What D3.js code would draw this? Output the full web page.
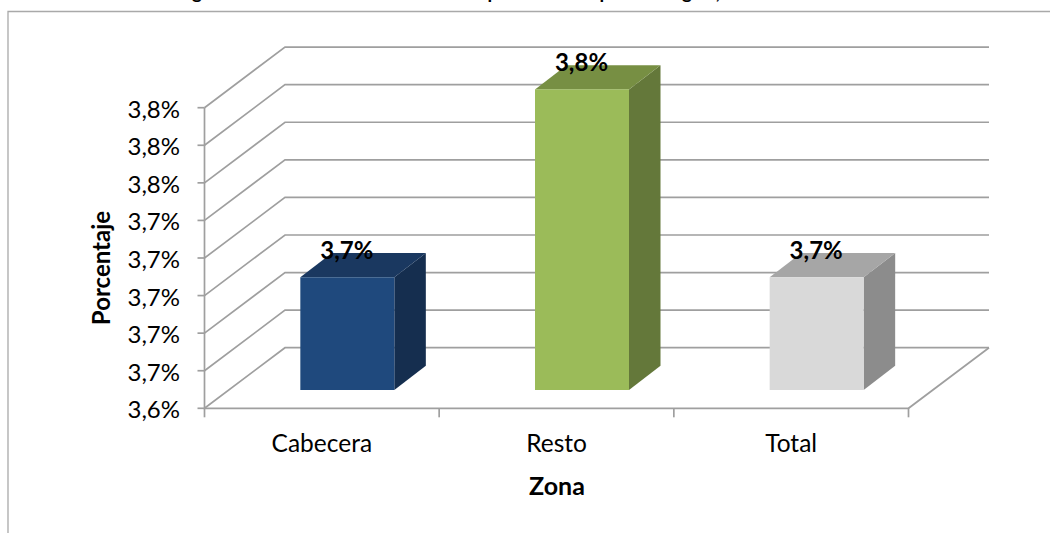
<!DOCTYPE html>
<html><head><meta charset="utf-8">
<script src="https://cdn.jsdelivr.net/npm/d3@7"></script>
<style>html,body{margin:0;padding:0;background:#fff}svg{display:block}text{font-family:Lato,"Open Sans",sans-serif;fill:#000}</style>
</head><body><svg id="c" width="1050" height="533"></svg>
<script>
const categories = ["Cabecera","Resto","Total"];
const values = [3.70,3.80,3.70];
const valueLabels = ["3,7%","3,8%","3,7%"];
const tickValues = [3.64,3.66,3.68,3.70,3.72,3.74,3.76,3.78,3.80];
const frontColors = ["#1f497d","#9bbb59","#d9d9d9"];
const topColors = ["#1a3860","#778f43","#a6a6a6"];
const sideColors = ["#152e4f","#64783a","#8c8c8c"];
const titleFragments = [["g",197],["p",493],["p",605],["g",687],[",",718]];

const svg = d3.select("#c");
const x0=204.5,x1=908.5,yB=408.3,yT=107.7,dx=80.5,dy=-60.6;
const barDx=31.5,barDy=-24.2,baseLift=18.3,barShift=25.5;
const x=d3.scaleBand().domain(categories).range([x0,x1]);
const y=d3.scaleLinear().domain([3.64,3.80]).range([yB,yT]);
const tickFmt=d3.formatLocale({decimal:",",thousands:".",grouping:[3],currency:["","%"]}).format(".1f");
const grey="#9f9f9f";

// chart frame, cut off by the picture's edges
svg.append("path").attr("d","M8,533V11.5H1050").attr("fill","none").attr("stroke","#a9a9a9").attr("stroke-width",1.3);

// title: only the descenders remain visible above the frame
svg.selectAll("text.tf").data(titleFragments).join("text").attr("class","tf")
  .attr("x",d=>d[1]).attr("y",-1).attr("text-anchor","middle")
  .style("font-size","19px").style("font-weight",700).text(d=>d[0]);

// gridlines: wall + floor side
const lineG=svg.append("g").attr("fill","none").attr("stroke",grey).attr("stroke-width",1.7);
lineG.selectAll("path.g").data(tickValues).join("path").attr("class","g")
  .attr("d",t=>`M${x0},${y(t)}L${x0+dx},${y(t)+dy}H${x1+dx}`);
lineG.append("path").attr("d",`M${x0},${yT}V${yB}H${x1}L${x1+dx},${yB+dy}`);
// ticks
lineG.selectAll("path.ty").data(tickValues).join("path").attr("class","ty")
  .attr("d",t=>`M${x0-7},${y(t)}H${x0}`);
const xt=[...categories.map(c=>x(c)),x1];
lineG.selectAll("path.tx").data(xt).join("path").attr("class","tx")
  .attr("d",v=>`M${v},${yB}V${yB+9}`);

// y labels
svg.selectAll("text.yl").data(tickValues).join("text").attr("class","yl")
  .attr("x",180).attr("y",t=>y(t)+10).attr("text-anchor","end")
  .style("font-size","24px").text(t=>tickFmt(t)+"%");
// x labels
svg.selectAll("text.xl").data(categories).join("text").attr("class","xl")
  .attr("x",c=>x(c)+x.bandwidth()/2).attr("y",452).attr("text-anchor","middle")
  .style("font-size","24.5px").text(c=>c);

// bars
const bw=94;
const bars=svg.selectAll("g.b").data(categories).join("g").attr("class","b");
const bx=c=>x(c)+x.bandwidth()/2+barShift-bw/2;
const by=i=>y(values[i])-baseLift;
const base=y(3.64)-baseLift;
bars.append("path").attr("fill",(c,i)=>sideColors[i])
  .attr("d",(c,i)=>`M${bx(c)+bw},${by(i)}l${barDx},${barDy}V${base+barDy}l${-barDx},${-barDy}Z`);
bars.append("path").attr("fill",(c,i)=>topColors[i])
  .attr("d",(c,i)=>`M${bx(c)},${by(i)}l${barDx},${barDy}h${bw}l${-barDx},${-barDy}Z`);
bars.append("rect").attr("fill",(c,i)=>frontColors[i])
  .attr("x",bx).attr("y",(c,i)=>by(i)).attr("width",bw).attr("height",(c,i)=>base-by(i));
// value labels
bars.append("text").attr("x",c=>bx(c)+46.5).attr("y",(c,i)=>by(i)-18)
  .attr("text-anchor","middle").style("font-size","24px").style("font-weight",700)
  .text((c,i)=>valueLabels[i]);

// axis titles
svg.append("text").attr("transform","translate(110,268) rotate(-90)").attr("text-anchor","middle")
  .style("font-size","24px").style("font-weight",700).text("Porcentaje");
svg.append("text").attr("x",557).attr("y",495).attr("text-anchor","middle")
  .style("font-size","25px").style("font-weight",700).text("Zona");
</script></body></html>
